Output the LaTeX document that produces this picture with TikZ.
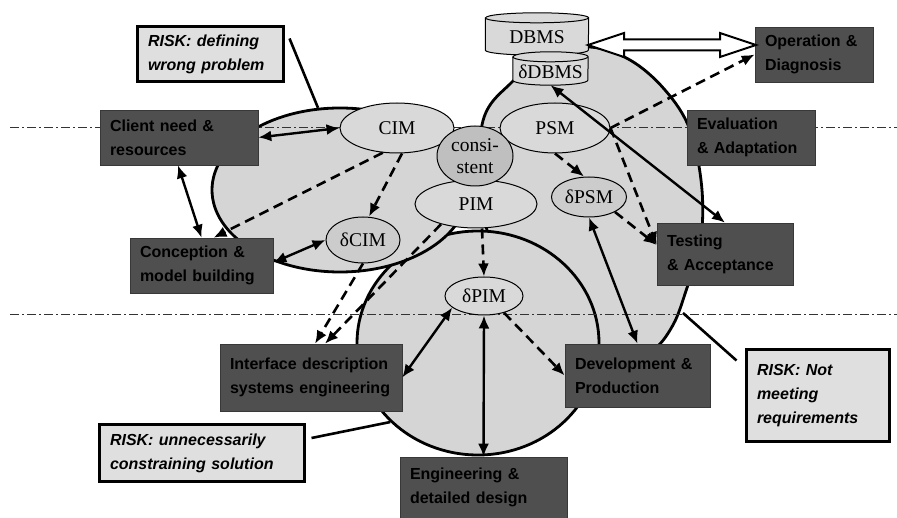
\documentclass[tikz,border=0pt]{standalone}
\usepackage{fontspec}
\setmainfont{Liberation Serif}
\newfontfamily\arialf{Liberation Sans}
\usetikzlibrary{arrows.meta,shapes.geometric,calc}
\begin{document}
\begin{tikzpicture}[x=1pt,y=-1pt,
  blob/.style={draw=black, line width=2.8pt, fill=gray!33},
  model/.style={ellipse, draw=black, line width=1pt, fill=gray!30, inner sep=0pt, align=center, font=\fontsize{19.5}{22}\selectfont},
  cyl/.style={draw=black, line width=1pt, fill=gray!30},
  darkbox/.style={rectangle, fill=black!69, draw=black!78, line width=0.6pt, inner xsep=10pt, inner ysep=0pt, align=left, text=black, font=\arialf\bfseries\fontsize{16}{24}\selectfont},
  riskbox/.style={rectangle, fill=gray!25, draw=black, line width=3pt, inner xsep=11pt, inner ysep=0pt, align=left, font=\arialf\bfseries\itshape\fontsize{16}{24}\selectfont},
  sepline/.style={line width=1pt, black!80, dash pattern=on 9pt off 3pt on 2pt off 3pt},
  link/.style={line width=2.4pt, {Latex[length=13pt,width=11pt]}-{Latex[length=13pt,width=11pt]}},
  flow/.style={line width=2.6pt, dash pattern=on 10pt off 6pt, -{Latex[length=13pt,width=11pt]}},
  riskline/.style={line width=2.6pt},
]
\useasboundingbox (0,0) rectangle (897,518);
\fill[white] (0,0) rectangle (897,518);

% blobs
\draw[blob] plot[smooth cycle, tension=0.6] coordinates {(482,125) (512,82) (550,55) (590,47) (630,60) (665,90) (690,130) (702,190) (700,250) (688,285) (673,325) (650,352) (610,362) (560,342) (510,290) (485,220)};
\coordinate (rbpt) at (683,313);
\node[blob, ellipse, minimum width=242pt, minimum height=224pt, inner sep=0pt] (bblob) at (478,343) {};
\node[blob, ellipse, minimum width=256pt, minimum height=164pt, inner sep=0pt] (lblob) at (340,190) {};

% separator lines
\coordinate (s1a) at (10,128); \coordinate (s1b) at (897,128);
\coordinate (s2a) at (10,315); \coordinate (s2b) at (897,315);
\draw[sepline] (s1a) -- (s1b);
\draw[sepline] (s2a) -- (s2b);

% model ellipses
\node[model, minimum width=114pt, minimum height=50pt] (cim) at (397,128) {CIM};
\node[model, minimum width=110pt, minimum height=50pt] (psm) at (555,128) {PSM};
\node[model, minimum width=122pt, minimum height=48pt] (pim) at (476,204) {PIM};
\node[model, fill=gray!50, minimum width=76pt, minimum height=60pt] (cons) at (475,156) {consi-\\stent};
\node[model, fill=gray!40, minimum width=74pt, minimum height=46pt] (dcim) at (363,240) {δCIM};
\node[model, fill=gray!40, minimum width=75pt, minimum height=40pt] (dpsm) at (589,197) {δPSM};
\node[model, minimum width=78pt, minimum height=38pt] (dpim) at (484,296) {δPIM};

% databases
\node[inner sep=0pt, minimum width=103pt, minimum height=42pt] (dbms) at (537,34) {};
\path[cyl] ([yshift=-5pt]dbms.north west) -- ([yshift=5pt]dbms.south west) arc[start angle=180, end angle=360, x radius=51.5pt, y radius=5pt] -- ([yshift=-5pt]dbms.north east) arc[start angle=0, end angle=180, x radius=51.5pt, y radius=5pt] -- cycle;
\draw[line width=1pt] ([yshift=-5pt]dbms.north west) arc[start angle=180, end angle=360, x radius=51.5pt, y radius=5pt];
\node[font=\fontsize{19.5}{22}\selectfont, inner sep=0pt] (dbmstext) at ([yshift=-3pt]dbms.center) {DBMS};
\node[inner sep=0pt, minimum width=75pt, minimum height=33pt] (ddbms) at (550.5,68.5) {};
\path[cyl] ([yshift=-5pt]ddbms.north west) -- ([yshift=5pt]ddbms.south west) arc[start angle=180, end angle=360, x radius=37.5pt, y radius=5pt] -- ([yshift=-5pt]ddbms.north east) arc[start angle=0, end angle=180, x radius=37.5pt, y radius=5pt] -- cycle;
\draw[line width=1pt] ([yshift=-5pt]ddbms.north west) arc[start angle=180, end angle=360, x radius=37.5pt, y radius=5pt];
\node[font=\fontsize{19.5}{22}\selectfont, inner sep=0pt] (ddbmstext) at ([yshift=-3pt]ddbms.center) {δDBMS};

% dark boxes
\node[darkbox, text width=138pt, minimum height=55pt] (client) at (179,137.5) {Client need \&\\ resources};
\node[darkbox, text width=123pt, minimum height=55pt] (concept) at (201.5,265.5) {Conception \&\\ model building};
\node[darkbox, text width=98pt, minimum height=55pt] (op) at (814,54.5) {Operation \&\\Diagnosis};
\node[darkbox, text width=108pt, minimum height=55pt] (eval) at (751,137.5) {Evaluation\\\& Adaptation};
\node[darkbox, text width=116pt, minimum height=62pt] (test) at (725,254) {Testing\\\& Acceptance};
\node[darkbox, text width=162pt, minimum height=67pt] (iface) at (311,377.5) {Interface description\\systems engineering};
\node[darkbox, text width=125pt, minimum height=63pt] (dev) at (637.5,375.5) {Development \&\\Production};
\node[darkbox, text width=147pt, minimum height=61pt] (eng) at (483.5,487.5) {Engineering \&\\detailed design};

% risk boxes
\node[riskbox, text width=124pt, minimum height=55pt] (risk1) at (210,54.5) {RISK: defining\\wrong problem};
\node[riskbox, text width=121pt, minimum height=91pt] (risk2) at (817.5,395.5) {RISK: Not\\meeting\\requirements};
\node[riskbox, text width=183pt, minimum height=56pt] (risk3) at (201.5,453) {RISK: unnecessarily\\constraining solution};

% risk lines
\draw[riskline] ([xshift=5pt,yshift=16pt]risk1.east) -- (lblob.105);
\draw[riskline] ([xshift=-8pt,yshift=-12pt]risk2.north west) -- (rbpt);
\draw[riskline] ([xshift=6pt,yshift=15pt]risk3.east) -- (bblob.222);

% fat hollow double arrow
\coordinate (fa1) at (588,45);
\coordinate (fa2) at (756,45);
\draw[line width=2pt, fill=white] (fa1) -- ++(36,-12) -- ++(0,6.5) -- ($(fa2)+(-36,-5.5)$) -- ++(0,-6.5) -- (fa2) -- ++(-36,12) -- ++(0,-6.5) -- ($(fa1)+(36,5.5)$) -- ++(0,6.5) -- cycle;

% solid links
\draw[link] (client.east) -- (cim.west);
\draw[link] ([xshift=-1pt]client.south) -- (concept.north);
\draw[link] ([yshift=3pt]concept.east) -- (dcim.west);
\draw[link] (iface.east) -- (dpim.200);
\draw[link] (dpim.south) -- (eng.north);
\draw[link] (dpsm.south) -- (dev.north);
\draw[link] (ddbms.south) -- (test.north);

% dashed flows
\draw[flow] (cim.240) -- ([xshift=12pt]concept.north);
\draw[flow] ([xshift=5pt]cim.south) -- ([xshift=6pt]dcim.north);
\draw[flow] (dcim.south) -- ([xshift=4pt]iface.north);
\draw[flow] (pim.210) -- ([xshift=14pt]iface.north);
\draw[flow] ([xshift=6pt]pim.south) -- (dpim.north);
\draw[flow] (dpim.-40) -- (dev.west);
\draw[flow] (psm.south) -- ([xshift=-5pt]dpsm.north);
\draw[flow] (dpsm.-30) -- ([yshift=9pt]test.west);
\draw[flow] (psm.east) -- ([yshift=9pt]test.west);
\draw[flow] (psm.east) -- (op.west);
\end{tikzpicture}
\end{document}
